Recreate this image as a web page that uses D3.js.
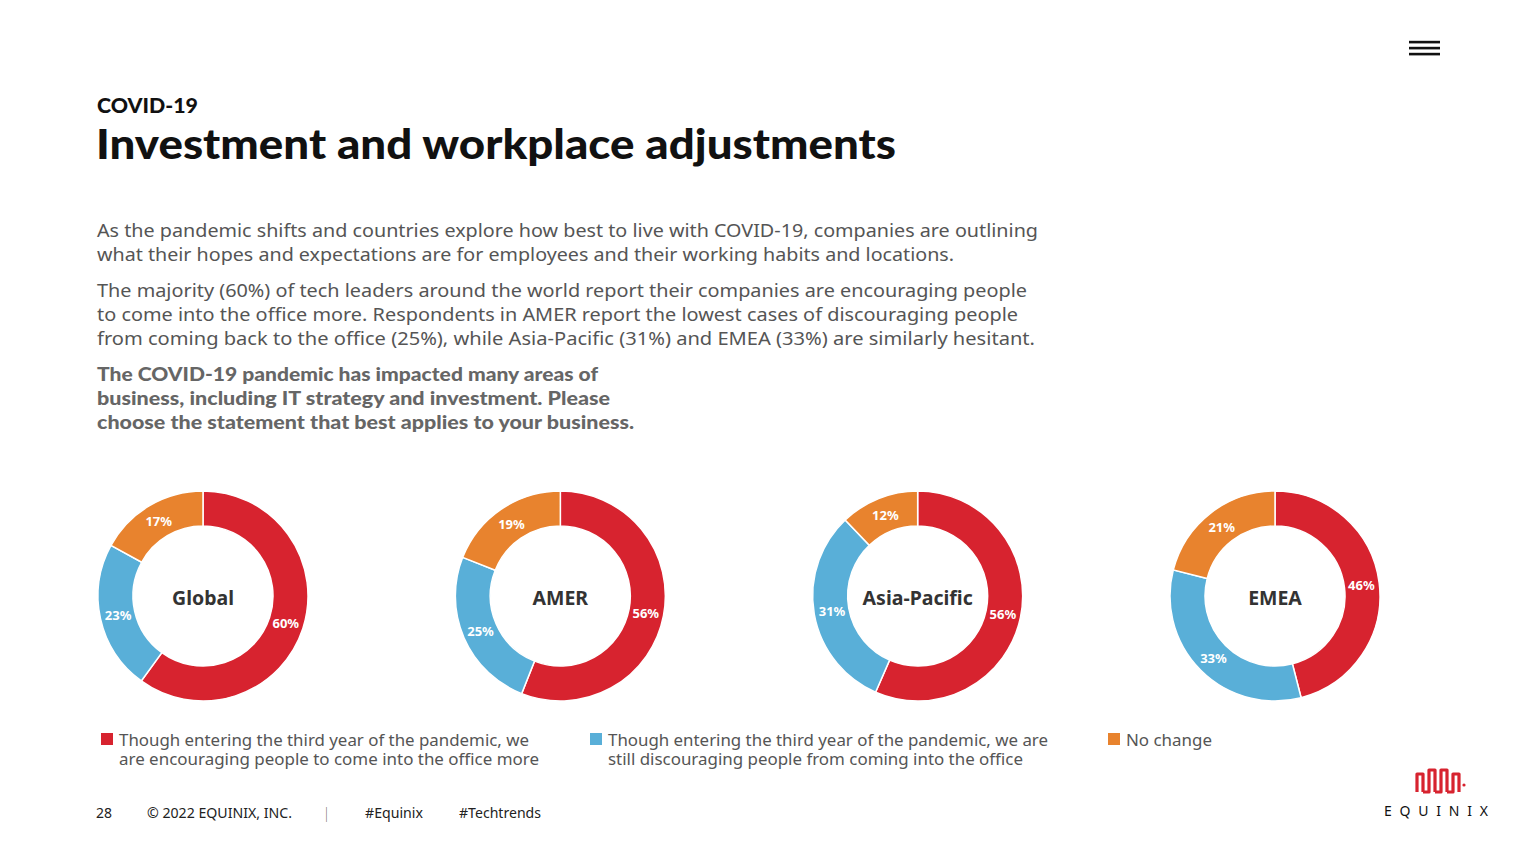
<!DOCTYPE html>
<html><head><meta charset="utf-8">
<script src="https://cdn.jsdelivr.net/npm/d3@7"></script>
<style>
html,body{margin:0;padding:0;background:#fff;}
svg{display:block;}
</style></head>
<body>
<script>
const regions = ["Global", "AMER", "Asia-Pacific", "EMEA"];
const encouraging = [60, 56, 56, 46];
const discouraging = [23, 25, 31, 33];
const noChange = [17, 19, 12, 21];
const seriesNames = [
  ["Though entering the third year of the pandemic, we", "are encouraging people to come into the office more"],
  ["Though entering the third year of the pandemic, we are", "still discouraging people from coming into the office"],
  ["No change"]
];
const colors = ["#d7232f", "#59afd8", "#e8832e"];

const W = 1536, H = 864;
const svg = d3.select("body").append("svg").attr("width", W).attr("height", H);

const sans = "'Noto Sans', 'Open Sans', sans-serif";
const heavy = "Lato, 'Noto Sans', sans-serif";

// hamburger
[42, 48, 54].forEach(y => svg.append("rect").attr("x", 1409).attr("y", y - 1.2).attr("width", 31).attr("height", 2.6).attr("fill", "#111"));

// headings
svg.append("text").attr("x", 97).attr("y", 113).attr("font-family", heavy).attr("font-weight", 900)
  .attr("font-size", 21).attr("fill", "#111").attr("textLength", 101).attr("lengthAdjust", "spacingAndGlyphs").text("COVID-19");
svg.append("text").attr("x", 96).attr("y", 159).attr("font-family", heavy).attr("font-weight", 900)
  .attr("font-size", 41).attr("fill", "#111").attr("textLength", 800).attr("lengthAdjust", "spacingAndGlyphs")
  .text("Investment and workplace adjustments");

const para = [
  ["As the pandemic shifts and countries explore how best to live with COVID-19, companies are outlining", 237, 941],
  ["what their hopes and expectations are for employees and their working habits and locations.", 261, 857],
  ["The majority (60%) of tech leaders around the world report their companies are encouraging people", 297, 930],
  ["to come into the office more. Respondents in AMER report the lowest cases of discouraging people", 321, 921],
  ["from coming back to the office (25%), while Asia-Pacific (31%) and EMEA (33%) are similarly hesitant.", 345, 938]
];
para.forEach(([t, y, w]) => svg.append("text").attr("x", 97).attr("y", y).attr("font-family", sans)
  .attr("font-size", 18).attr("fill", "#555").attr("textLength", w).attr("lengthAdjust", "spacingAndGlyphs").text(t));

const q = [
  ["The COVID-19 pandemic has impacted many areas of", 381, 501],
  ["business, including IT strategy and investment. Please", 405, 513],
  ["choose the statement that best applies to your business.", 429, 537]
];
q.forEach(([t, y, w]) => svg.append("text").attr("x", 97).attr("y", y).attr("font-family", heavy).attr("font-weight", 900)
  .attr("font-size", 18.5).attr("fill", "#666").attr("textLength", w).attr("lengthAdjust", "spacingAndGlyphs").text(t));

// donuts
const centersX = d3.scalePoint().domain(regions).range([203, 1275]);
const cy = 596, rOuter = 105, rInner = 70;
const pie = d3.pie().sort(null).value(d => d.v);
const arc = d3.arc().innerRadius(rInner).outerRadius(rOuter);
const labelArc = d3.arc().innerRadius(87).outerRadius(87);

regions.forEach((reg, i) => {
  const data = [
    {k: 0, v: encouraging[i]},
    {k: 1, v: discouraging[i]},
    {k: 2, v: noChange[i]}
  ];
  const g = svg.append("g").attr("transform", `translate(${centersX(reg)},${cy})`);
  const arcs = pie(data);
  g.selectAll("path").data(arcs).join("path")
    .attr("d", arc).attr("fill", d => colors[d.data.k]).attr("stroke", "#fff").attr("stroke-width", 1.5);
  g.selectAll("text.lab").data(arcs).join("text").attr("class", "lab")
    .attr("transform", d => `translate(${labelArc.centroid(d)})`)
    .attr("text-anchor", "middle").attr("dy", "0.4em")
    .attr("font-family", sans).attr("font-weight", 700).attr("font-size", 13).attr("fill", "#fff")
    .text(d => d.data.v + "%");
  g.append("text").attr("text-anchor", "middle").attr("y", 2).attr("dy", "0.35em")
    .attr("font-family", sans).attr("font-weight", 700).attr("font-size", 19.5).attr("fill", "#333").text(reg);
});

// legend
const legX = [101, 590, 1108];
const legW = [[410, 420], [440, 415], [86]];
seriesNames.forEach((lines, i) => {
  svg.append("rect").attr("x", legX[i]).attr("y", 733).attr("width", 12).attr("height", 12).attr("fill", colors[i]);
  lines.forEach((t, j) => svg.append("text").attr("x", legX[i] + 18).attr("y", 746 + j * 19)
    .attr("font-family", sans).attr("font-size", 15.5).attr("fill", "#555")
    .attr("textLength", legW[i][j]).attr("lengthAdjust", "spacingAndGlyphs").text(t));
});

// footer
const foot = [["28", 96, 16], ["\u00a9 2022 EQUINIX, INC.", 147, 145], ["|", 325, 3], ["#Equinix", 365, 58], ["#Techtrends", 459, 82]];
foot.forEach(([t, x, w]) => svg.append("text").attr("x", x).attr("y", 818).attr("font-family", sans)
  .attr("font-size", 13.5).attr("fill", "#222").attr("textLength", w).attr("lengthAdjust", "spacingAndGlyphs").text(t));

// logo
const lg = svg.append("g").attr("transform", "translate(1415,768)");
lg.append("path").attr("d",
  "M2,24 L2,6 L8,6 L8,24 M8,24 L14,24 L14,2 L20,2 L20,24 M20,24 L26,24 L26,2 L32,2 L32,24 M32,24 L38,24 L38,6 L44,6 L44,24")
  .attr("fill", "none").attr("stroke", "#d7232f").attr("stroke-width", 3.2).attr("stroke-linejoin", "round");
lg.append("circle").attr("cx", 49).attr("cy", 17).attr("r", 1.6).attr("fill", "#d7232f");
svg.append("text").attr("x", 1384).attr("y", 816).attr("font-family", sans).attr("font-size", 14)
  .attr("fill", "#111").attr("textLength", 104).attr("lengthAdjust", "spacing").text("EQUINIX");
</script>
</body></html>
